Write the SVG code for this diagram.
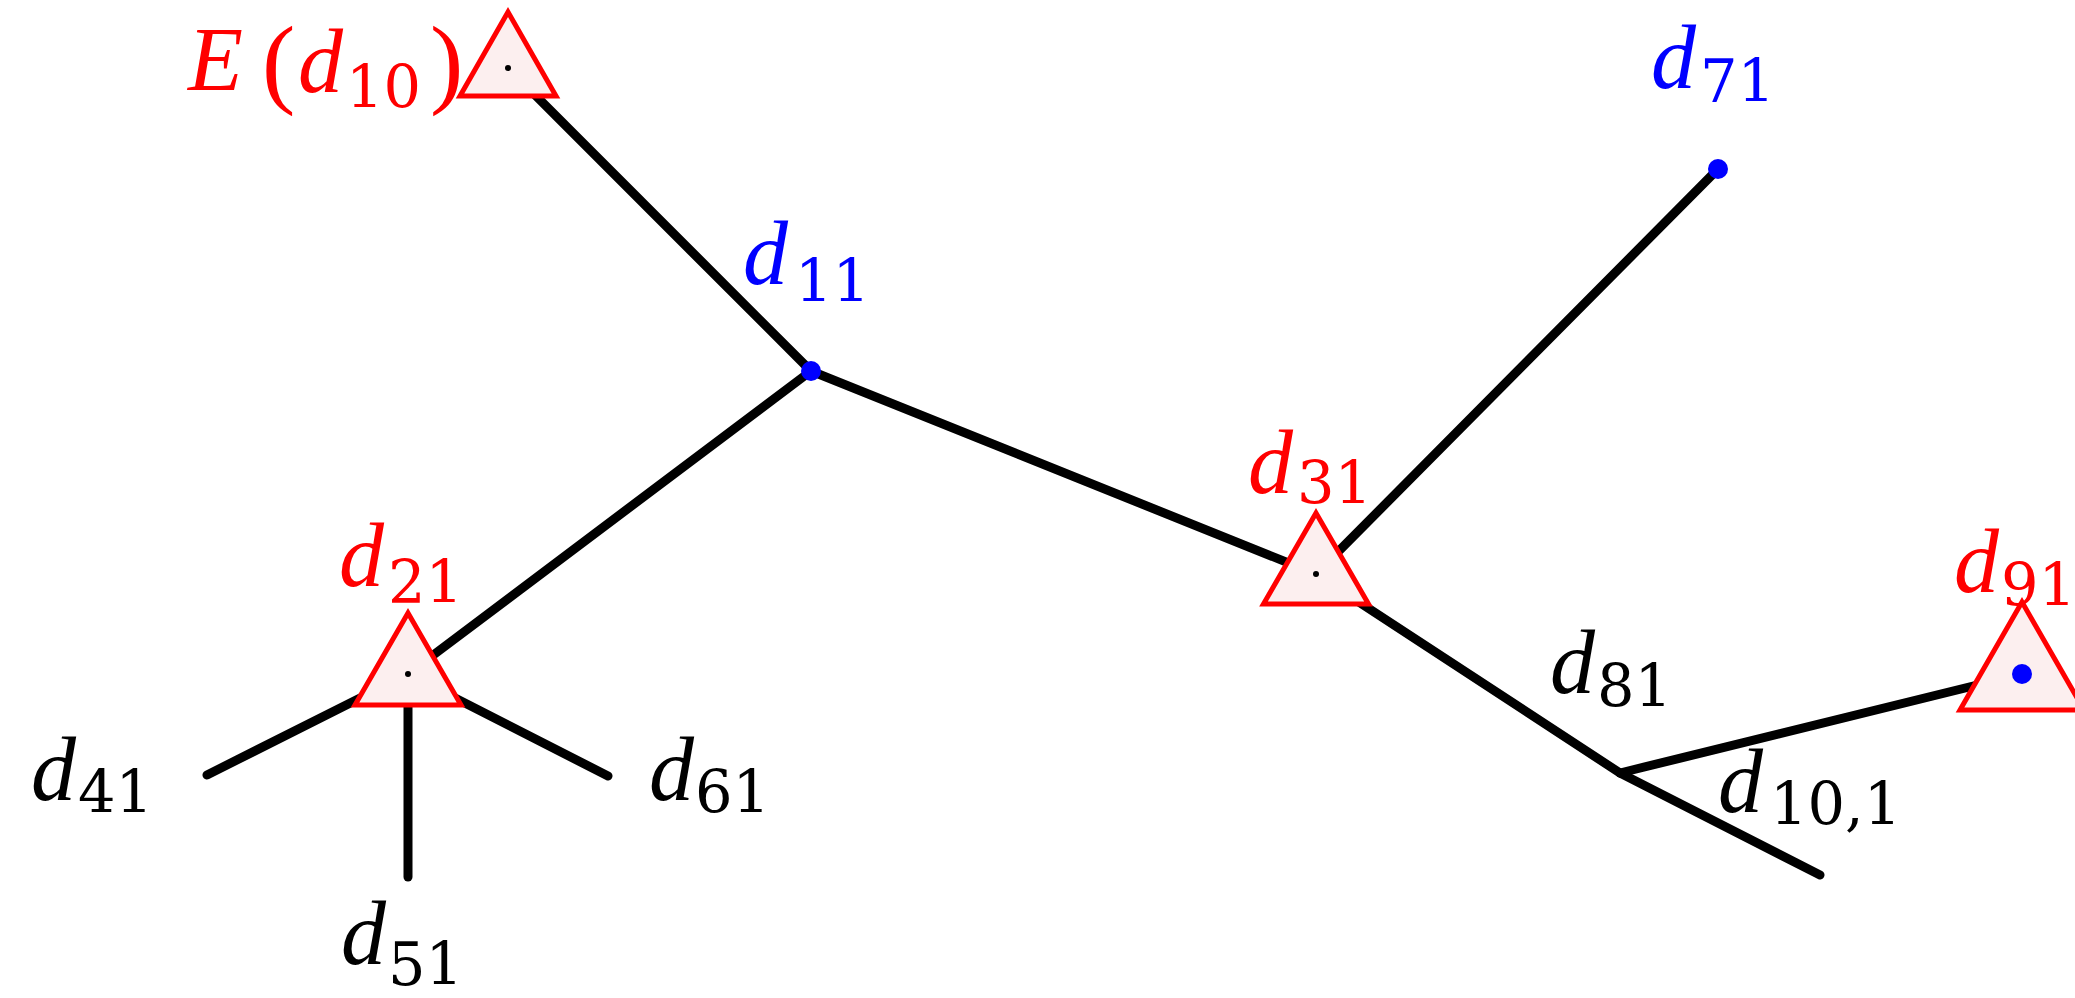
<svg xmlns="http://www.w3.org/2000/svg" width="2075" height="998" viewBox="0 0 2075 998">
<style>
  .edge { stroke: #000; stroke-width: 9; stroke-linecap: round; fill: none; }
  .tri { fill: #fcefef; stroke: #ff0000; stroke-width: 5; stroke-linejoin: miter; }
  .cdot { fill: #000; }
  .bdot { fill: #0000ff; }
  .m { font-family: "Liberation Serif", "Times New Roman", serif; font-size: 90px; font-style: italic; }
  .p { font-family: "Liberation Serif", "Times New Roman", serif; font-size: 100px; font-style: normal; }
  .s { font-family: "DejaVu Serif", "Liberation Serif", serif; font-size: 59px; font-style: normal; }
  .red { fill: #ff0000; }
  .blue { fill: #0000ff; }
  .blk { fill: #000; }
</style>
<rect width="2075" height="998" fill="#fff"/>
<g id="connectors">
  <line class="edge" x1="508" y1="68" x2="811" y2="371"/>
  <line class="edge" x1="811" y1="371" x2="408" y2="674"/>
  <line class="edge" x1="811" y1="371" x2="1316" y2="574"/>
  <line class="edge" x1="1316" y1="574" x2="1718" y2="169"/>
  <line class="edge" x1="1316" y1="574" x2="1620" y2="773"/>
  <line class="edge" x1="1620" y1="773" x2="2022" y2="674"/>
  <line class="edge" x1="1620" y1="773" x2="1820" y2="875"/>
  <line class="edge" x1="408" y1="674" x2="207" y2="775"/>
  <line class="edge" x1="408" y1="674" x2="608" y2="776"/>
  <line class="edge" x1="408" y1="674" x2="408" y2="877"/>
</g>
<g id="E_d10">
  <polygon class="tri" points="508,12 460,96 556,96"/>
  <circle class="cdot" cx="508" cy="68" r="3"/>
  <text class="red"><tspan class="m" x="188" y="90">E</tspan><tspan class="p" x="262" y="95">(</tspan><tspan class="m" x="298" y="92">d</tspan><tspan class="s" x="346" y="108">10</tspan><tspan class="p" x="430" y="95">)</tspan></text>
</g>
<g id="d11">
  <circle class="bdot" cx="811" cy="371" r="10"/>
  <text class="blue"><tspan class="m" x="743" y="284">d</tspan><tspan class="s" x="795" y="302">11</tspan></text>
</g>
<g id="d71">
  <circle class="bdot" cx="1718" cy="169" r="10"/>
  <text class="blue"><tspan class="m" x="1651" y="88">d</tspan><tspan class="s" x="1700" y="102">71</tspan></text>
</g>
<g id="d21">
  <polygon class="tri" points="408,613 355,705 461,705"/>
  <circle class="cdot" cx="408" cy="674" r="3"/>
  <text class="red"><tspan class="m" x="339" y="586">d</tspan><tspan class="s" x="388" y="603">21</tspan></text>
</g>
<g id="d31">
  <polygon class="tri" points="1316,513 1263.5,604 1368.5,604"/>
  <circle class="cdot" cx="1316" cy="574" r="3"/>
  <text class="red"><tspan class="m" x="1248" y="493">d</tspan><tspan class="s" x="1297" y="504">31</tspan></text>
</g>
<g id="d91">
  <polygon class="tri" points="2022,602 1960,710 2084,710"/>
  <circle class="bdot" cx="2022" cy="674" r="10"/>
  <text class="red"><tspan class="m" x="1954" y="592">d</tspan><tspan class="s" x="2001" y="606">91</tspan></text>
</g>
<g id="d41">
  <text class="blk"><tspan class="m" x="31" y="800">d</tspan><tspan class="s" x="78" y="813">41</tspan></text>
</g>
<g id="d51">
  <text class="blk"><tspan class="m" x="341" y="964">d</tspan><tspan class="s" x="388" y="985">51</tspan></text>
</g>
<g id="d61">
  <text class="blk"><tspan class="m" x="649" y="800">d</tspan><tspan class="s" x="695" y="813">61</tspan></text>
</g>
<g id="d81">
  <text class="blk"><tspan class="m" x="1550" y="693">d</tspan><tspan class="s" x="1597" y="707">81</tspan></text>
</g>
<g id="d10_1">
  <text class="blk"><tspan class="m" x="1718" y="812">d</tspan><tspan class="s" x="1770" y="825">10,1</tspan></text>
</g>
</svg>
